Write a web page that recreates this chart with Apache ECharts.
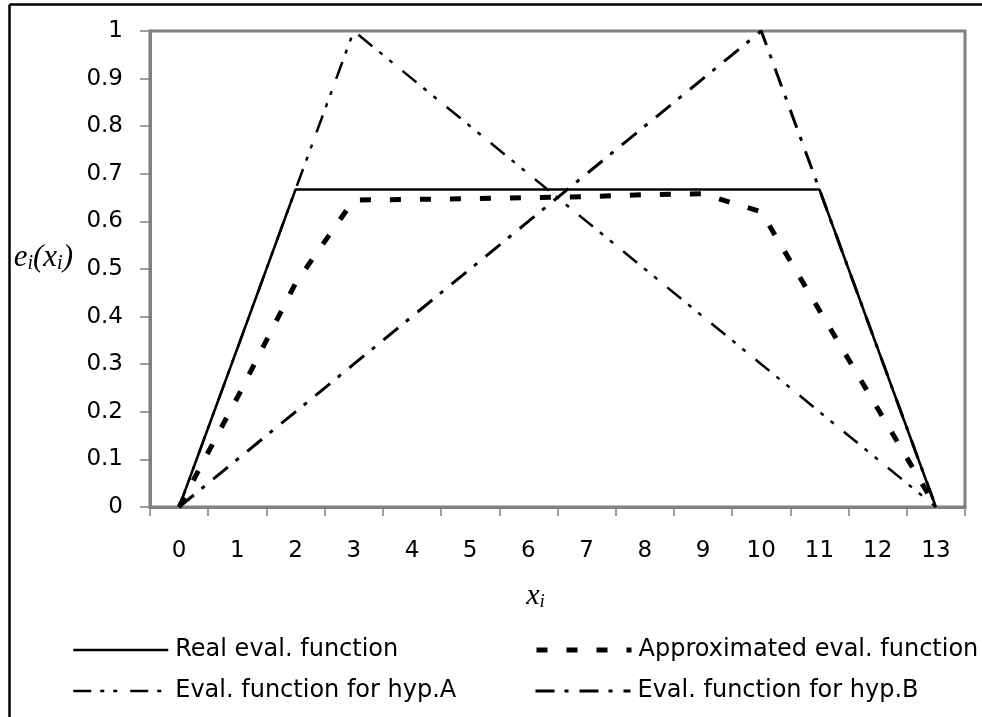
<!DOCTYPE html>
<html>
<head>
<meta charset="utf-8">
<script src="https://cdn.jsdelivr.net/npm/echarts@6/dist/echarts.min.js"></script>
<style>
html,body{margin:0;padding:0;background:#fff;}
#chart{width:982px;height:717px;}
</style>
</head>
<body>
<div id="chart"></div>
<script>
var categories = ['0','1','2','3','4','5','6','7','8','9','10','11','12','13'];
var realEval   = [0, 0.333, 0.667, 0.667, 0.667, 0.667, 0.667, 0.667, 0.667, 0.667, 0.667, 0.667, 0.333, 0];
var approxEval = [0, 0.23, 0.47, 0.645, 0.646, 0.648, 0.65, 0.652, 0.656, 0.658, 0.62, 0.413, 0.207, 0];
var hypA       = [0, 0.333, 0.667, 1, 0.9, 0.8, 0.7, 0.6, 0.5, 0.4, 0.3, 0.2, 0.1, 0];
var hypB       = [0, 0.1, 0.2, 0.3, 0.4, 0.5, 0.6, 0.7, 0.8, 0.9, 1, 0.667, 0.333, 0];
var seriesNames = ['Real eval. function', 'Approximated eval. function', 'Eval. function for hyp.A', 'Eval. function for hyp.B'];

var chart = echarts.init(document.getElementById('chart'), null, {renderer: 'canvas'});
var sans = 'DejaVu Sans';
var serif = 'Liberation Serif';
var gray = '#808080';

var styles = [
  {color: '#000', width: 2.5, type: 'solid', cap: 'butt'},
  {color: '#000', width: 5, type: [11, 19], cap: 'butt'},
  {color: '#000', width: 2.5, type: [18, 9, 4, 9, 4, 13], cap: 'butt'},
  {color: '#000', width: 3, type: [19, 10, 4, 11], cap: 'butt'}
];

function legendAt(i, left, top) {
  return {
    data: [seriesNames[i]], left: left, top: top, padding: 0,
    itemWidth: 95, itemHeight: 24,
    itemStyle: {opacity: 0},
    lineStyle: styles[i],
    textStyle: {fontFamily: sans, fontSize: 24, color: '#000', lineHeight: 24, padding: [0, 0, 0, 2]},
    selectedMode: false
  };
}

var option = {
  animation: false,
  backgroundColor: '#fff',
  grid: {left: 150, right: 17, top: 31, bottom: 210, show: true, borderColor: gray, borderWidth: 3, backgroundColor: 'transparent'},
  legend: [
    legendAt(0, 72, 638),
    legendAt(1, 534, 638),
    legendAt(2, 72, 679),
    legendAt(3, 534, 679)
  ],
  xAxis: {
    type: 'category', data: categories, boundaryGap: true,
    axisLine: {lineStyle: {color: gray, width: 3}},
    axisTick: {show: true, length: 9, lineStyle: {color: gray, width: 1.5}},
    axisLabel: {fontFamily: sans, fontSize: 23, color: '#000', margin: 33},
    splitLine: {show: false},
    name: '{x|x}{s|i}', nameLocation: 'middle', nameGap: 74,
    nameTextStyle: {
      padding: [0, 44, 0, 0],
      rich: {
        x: {fontFamily: serif, fontStyle: 'italic', fontSize: 30, color: '#000', lineHeight: 30},
        s: {fontFamily: serif, fontStyle: 'italic', fontSize: 19, color: '#000', lineHeight: 30, verticalAlign: 'bottom'}
      }
    }
  },
  yAxis: {
    type: 'value', min: 0, max: 1, interval: 0.1,
    axisLine: {show: true, lineStyle: {color: gray, width: 3}},
    axisTick: {show: true, length: 10, lineStyle: {color: gray, width: 1.5}},
    axisLabel: {fontFamily: sans, fontSize: 23, color: '#000', margin: 27},
    splitLine: {show: false},
    name: '{e|e}{s|i}{e|(x}{s|i}{e|)}', nameLocation: 'middle', nameRotate: 0, nameGap: 77,
    nameTextStyle: {
      align: 'right', verticalAlign: 'middle', padding: [0, 0, 22, 0],
      rich: {
        e: {fontFamily: serif, fontStyle: 'italic', fontSize: 31, color: '#000', lineHeight: 32},
        s: {fontFamily: serif, fontStyle: 'italic', fontSize: 20, color: '#000', lineHeight: 32, verticalAlign: 'bottom'}
      }
    }
  },
  series: [
    {name: seriesNames[0], type: 'line', data: realEval, symbol: 'none', smooth: false,
     lineStyle: styles[0], itemStyle: {color: '#000'}, z: 5},
    {name: seriesNames[1], type: 'line', data: approxEval, symbol: 'none', smooth: false,
     lineStyle: styles[1], itemStyle: {color: '#000'}, z: 4},
    {name: seriesNames[2], type: 'line', data: hypA, symbol: 'none', smooth: false,
     lineStyle: styles[2], itemStyle: {color: '#000'}, z: 3},
    {name: seriesNames[3], type: 'line', data: hypB, symbol: 'none', smooth: false,
     lineStyle: styles[3], itemStyle: {color: '#000'}, z: 3}
  ],
  graphic: [
    {type: 'line', shape: {x1: 9.5, y1: 4.5, x2: 982, y2: 4.5}, style: {stroke: '#000', lineWidth: 2.5}, silent: true},
    {type: 'line', shape: {x1: 9.5, y1: 4.5, x2: 9.5, y2: 717}, style: {stroke: '#000', lineWidth: 2.5}, silent: true}
  ]
};
chart.setOption(option);
</script>
</body>
</html>
